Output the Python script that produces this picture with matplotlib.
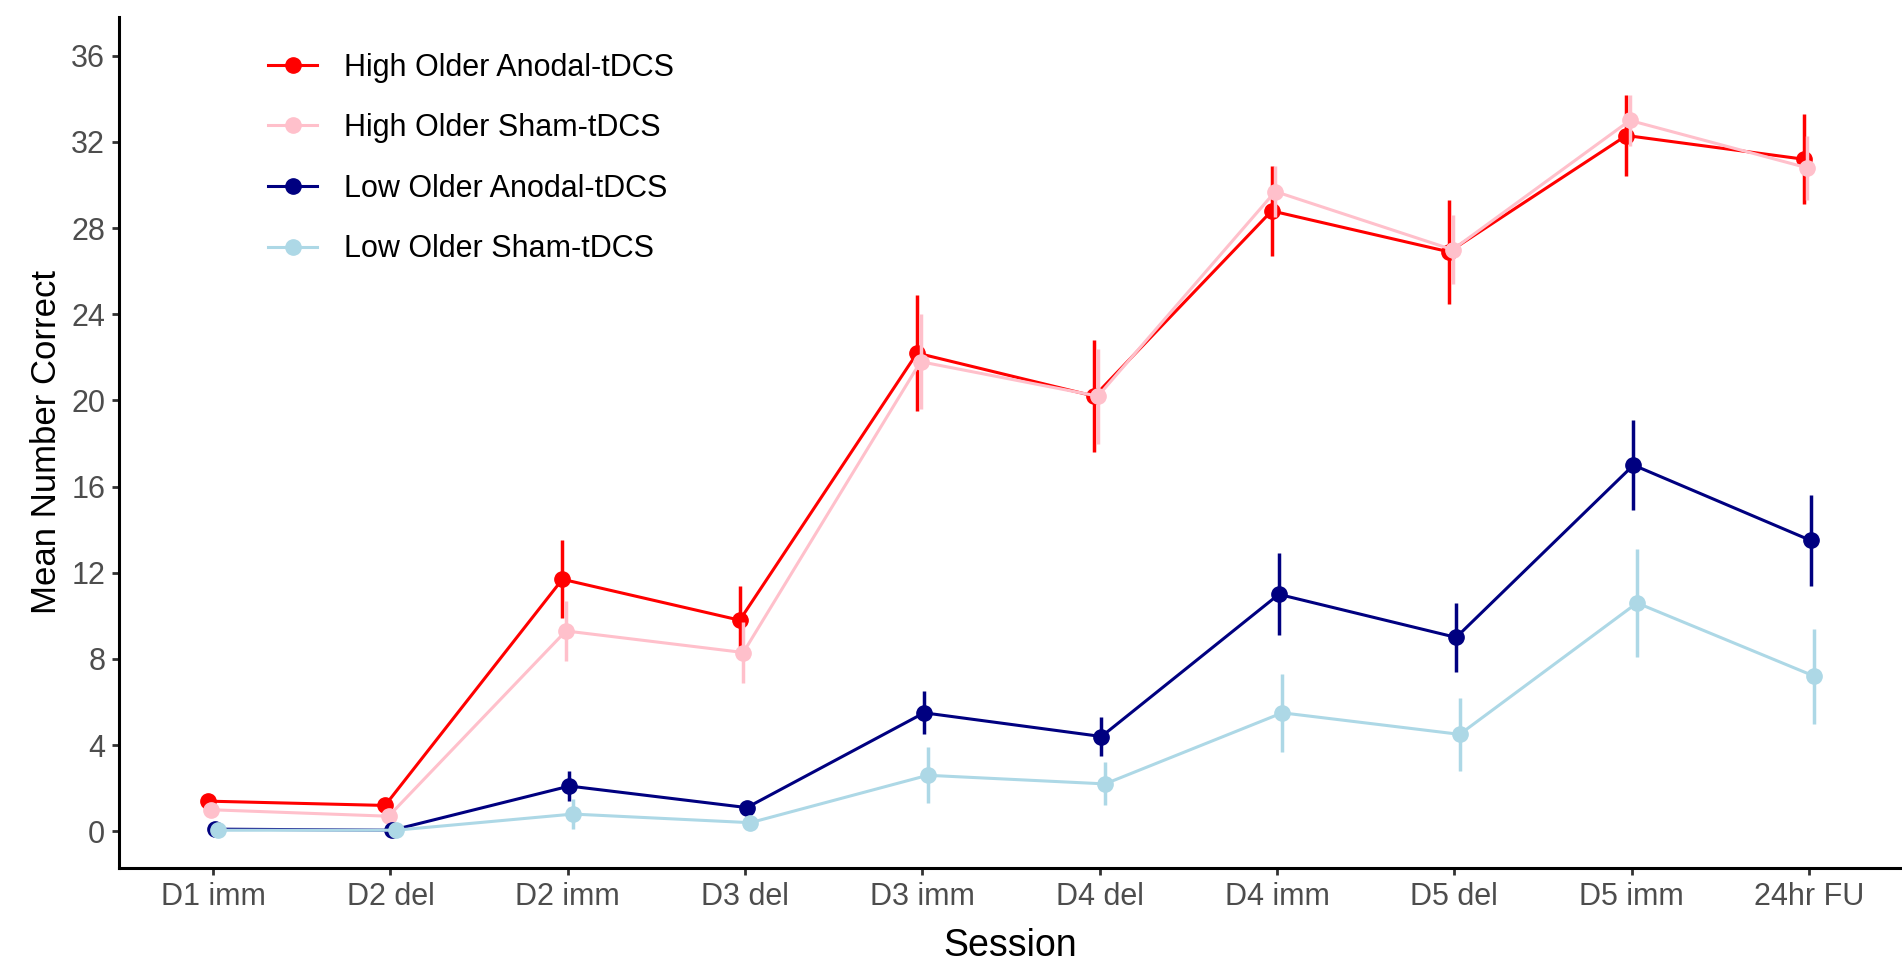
import numpy as np
import matplotlib.pyplot as plt

plt.rcParams['font.family'] = ['Liberation Sans', 'DejaVu Sans']

sessions = ["D1 imm", "D2 del", "D2 imm", "D3 del", "D3 imm",
            "D4 del", "D4 imm", "D5 del", "D5 imm", "24hr FU"]
groups = ["High Older Anodal-tDCS", "High Older Sham-tDCS",
          "Low Older Anodal-tDCS", "Low Older Sham-tDCS"]
colors = ["red", "pink", "navy", "lightblue"]

high_anodal = [1.4, 1.2, 11.7, 9.8, 22.2, 20.2, 28.8, 26.9, 32.3, 31.2]
high_anodal_se = [0.3, 0.3, 1.8, 1.6, 2.7, 2.6, 2.1, 2.4, 1.9, 2.1]
high_sham = [1.0, 0.7, 9.3, 8.3, 21.8, 20.2, 29.7, 27.0, 33.0, 30.8]
high_sham_se = [0.3, 0.3, 1.4, 1.4, 2.2, 2.2, 1.2, 1.6, 1.2, 1.5]
low_anodal = [0.1, 0.05, 2.1, 1.1, 5.5, 4.4, 11.0, 9.0, 17.0, 13.5]
low_anodal_se = [0.1, 0.1, 0.7, 0.3, 1.0, 0.9, 1.9, 1.6, 2.1, 2.1]
low_sham = [0.05, 0.05, 0.8, 0.4, 2.6, 2.2, 5.5, 4.5, 10.6, 7.2]
low_sham_se = [0.1, 0.1, 0.7, 0.3, 1.3, 1.0, 1.8, 1.7, 2.5, 2.2]

means = [high_anodal, high_sham, low_anodal, low_sham]
ses = [high_anodal_se, high_sham_se, low_anodal_se, low_sham_se]
offsets = [-0.03, -0.01, 0.01, 0.03]

fig = plt.figure(figsize=(19.02, 9.73), dpi=100)
ax = fig.add_axes([0.0626, 0.108, 0.937, 0.8745])

x = np.arange(1, len(sessions) + 1)
handles = []
for m, s, c, off, g in zip(means, ses, colors, offsets, groups):
    ax.errorbar(x + off, m, yerr=s, fmt="none", ecolor=c, elinewidth=2.5, capsize=0)
    h, = ax.plot(x + off, m, "-o", color=c, lw=2.2, ms=11, label=g)
    handles.append(h)

ax.set_xlim(0.47, 10.52)
ax.set_ylim(-1.7, 37.8)
ax.set_xticks(x)
ax.set_xticklabels(sessions)
ax.set_yticks(np.arange(0, 37, 4))
ax.tick_params(labelsize=22, labelcolor="#4d4d4d", color="#333333", length=5, width=2.0, pad=5)
ax.set_xlabel("Session", fontsize=27, labelpad=12)
ax.set_ylabel("Mean Number Correct", fontsize=25, labelpad=6)
for side in ["top", "right"]:
    ax.spines[side].set_visible(False)
for side in ["left", "bottom"]:
    ax.spines[side].set_linewidth(2.2)

fig.legend(handles=handles, loc="upper left", bbox_to_anchor=(0.141, 0.946),
           frameon=False, fontsize=22, borderaxespad=0, borderpad=0,
           handlelength=1.6, handletextpad=0.88, labelspacing=1.0)

fig.savefig("out.png", dpi=100)
